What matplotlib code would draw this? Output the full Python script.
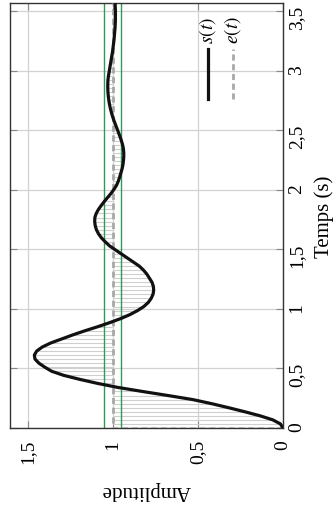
import numpy as np
import matplotlib
matplotlib.use('Agg')
import matplotlib.pyplot as plt

plt.rcParams['font.family'] = ['Liberation Serif', 'DejaVu Serif']
plt.rcParams['mathtext.fontset'] = 'stix'

s = [0.000, 0.015, 0.060, 0.135, 0.225, 0.320, 0.420, 0.530, 0.675, 0.825,
     0.970, 1.090, 1.195, 1.290, 1.360, 1.400, 1.435, 1.458, 1.462, 1.448,
     1.415, 1.365, 1.300, 1.235, 1.165, 1.090, 1.020, 0.955, 0.900, 0.855,
     0.818, 0.792, 0.775, 0.764, 0.760, 0.762, 0.770, 0.785, 0.800, 0.820,
     0.845, 0.880, 0.915, 0.950, 0.985, 1.020, 1.045, 1.068, 1.085, 1.097,
     1.104, 1.107, 1.106, 1.098, 1.085, 1.068, 1.050, 1.030, 1.010, 0.993,
     0.978, 0.968, 0.960, 0.953, 0.946, 0.941, 0.938, 0.936, 0.936, 0.938,
     0.943, 0.950, 0.958, 0.967, 0.976, 0.985, 0.994, 1.002, 1.009, 1.015,
     1.020, 1.024, 1.027, 1.029, 1.030, 1.030, 1.029, 1.026, 1.022, 1.018,
     1.014, 1.010, 1.006, 1.002, 0.999, 0.996, 0.993, 0.991, 0.989, 0.987,
     0.986, 0.985, 0.985, 0.985, 0.986, 0.987]
dt = 0.034
t = np.round(np.arange(len(s)) * dt, 3)
s = np.array(s)

e_level = 1.0          # step input e(t)
band = [0.95, 1.05]    # +/- 5 % band
t_max = 3.57

amp_ticks = [0, 0.5, 1, 1.5]
amp_labels = ['0', '0,5', '1', '1,5']
time_ticks = [0, 0.5, 1, 1.5, 2, 2.5, 3, 3.5]
time_labels = ['0', '0,5', '1', '1,5', '2', '2,5', '3', '3,5']

fig = plt.figure(figsize=(3.34, 5.10), dpi=100)
ax = fig.add_axes([0.030, 0.159, 0.817, 0.833])

# chart is drawn turned by a quarter turn: time goes up, amplitude goes left
ax.hlines(t, e_level, s, color='#cfcfcf', lw=0.8, zorder=1)
for b in band:
    ax.axvline(b, color='#2e9a55', lw=1.0, zorder=2)
ax.plot([0, e_level, e_level], [0, 0, t_max], color='#a8a8a8', lw=2,
        ls=(0, (2.2, 1.3)), zorder=3)
ax.plot(s, t, color='#111111', lw=2.3, zorder=4)

ax.set_xlim(1.605, 0)
ax.set_ylim(0, t_max)
ax.set_xticks(amp_ticks)
ax.set_xticklabels(amp_labels)
ax.set_yticks(time_ticks)
ax.set_yticklabels(time_labels)
ax.grid(color='#d2d2d2', lw=0.9)
ax.set_axisbelow(True)

ax.tick_params(axis='x', direction='in', top=True, bottom=True, length=5,
               color='#888888', labelsize=14, labelrotation=90, pad=8)
ax.tick_params(axis='y', direction='in', left=True, right=True, length=5,
               color='#888888', labelsize=14, labelrotation=90,
               labelleft=False, labelright=True, pad=4)
for sp in ax.spines.values():
    sp.set_color('#333333')
    sp.set_linewidth(1.0)

ax.set_xlabel('Amplitude', fontsize=15, rotation=180, labelpad=12)
ax.yaxis.set_label_position('right')
ax.set_ylabel('Temps (s)', fontsize=15, rotation=90, labelpad=6)

# legend, turned like the rest
ax.plot([0.725, 0.725], [0.774, 0.892], transform=ax.transAxes,
        color='#111111', lw=2.3)
ax.plot([0.817, 0.817], [0.774, 0.892], transform=ax.transAxes,
        color='#a8a8a8', lw=2, ls=(0, (2.2, 1.3)))
ax.text(0.725, 0.905, '$s(t)$', transform=ax.transAxes, rotation=90,
        ha='center', va='bottom', fontsize=14)
ax.text(0.817, 0.905, '$e(t)$', transform=ax.transAxes, rotation=90,
        ha='center', va='bottom', fontsize=14)

fig.savefig('out.png', dpi=100)
